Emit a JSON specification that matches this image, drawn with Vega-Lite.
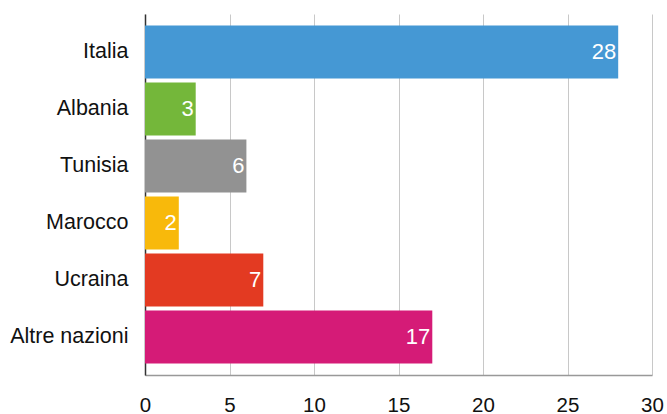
{
  "$schema": "https://vega.github.io/schema/vega-lite/v6.json",
  "width": 507,
  "height": 361,
  "autosize": {"type": "none"},
  "padding": {"left": 145, "top": 14, "right": 15, "bottom": 39},
  "background": "white",
  "config": {"view": {"stroke": null}, "font": "Liberation Sans"},
  "data": {"values": [
    {"paese": "Italia", "valore": 28, "colore": "#4598d4"},
    {"paese": "Albania", "valore": 3, "colore": "#74b73a"},
    {"paese": "Tunisia", "valore": 6, "colore": "#929292"},
    {"paese": "Marocco", "valore": 2, "colore": "#f8b90b"},
    {"paese": "Ucraina", "valore": 7, "colore": "#e33a22"},
    {"paese": "Altre nazioni", "valore": 17, "colore": "#d51b77"}
  ]},
  "encoding": {
    "y": {
      "field": "paese", "type": "nominal", "sort": null,
      "scale": {"paddingInner": 0.07, "paddingOuter": 0.2},
      "axis": {"title": null, "ticks": false, "domainColor": "#333333", "domainWidth": 1.5,
        "labelFontSize": 21.5, "labelColor": "#111111", "labelPadding": 17, "labelFont": "Liberation Sans", "grid": false, "labelLimit": 200}
    },
    "x": {
      "field": "valore", "type": "quantitative",
      "scale": {"domain": [0, 30], "nice": false},
      "axis": {"title": null, "values": [0, 5, 10, 15, 20, 25, 30], "ticks": false, "grid": true,
        "gridColor": "#c8c8c8", "gridWidth": 1, "domainColor": "#999999", "domainWidth": 1.5,
        "labelFontSize": 20.5, "labelColor": "#111111", "labelPadding": 20, "labelFont": "Liberation Sans", "labelFlush": false}
    }
  },
  "layer": [
    {"mark": {"type": "bar"}, "encoding": {"color": {"field": "colore", "type": "nominal", "scale": null}}},
    {"mark": {"type": "text", "align": "right", "dx": -2, "color": "white", "fontSize": 22, "baseline": "middle"},
     "encoding": {"text": {"field": "valore", "type": "quantitative"}}}
  ]
}
